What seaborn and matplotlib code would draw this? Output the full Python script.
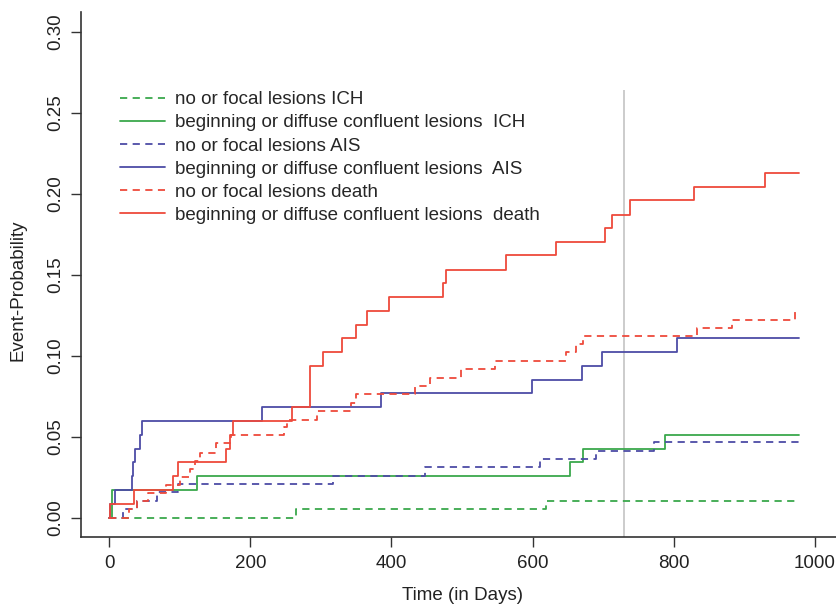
"""Cumulative event probability by lesion group (step curves)"""

import matplotlib
matplotlib.use("Agg")
import matplotlib.pyplot as plt
import pandas as pd
import seaborn as sns

END_DAY = 977
CUTOFF_DAY = 730

# no or focal lesions ICH
ich_focal_t = [0, 264, 619]
ich_focal_p = [0.0, 0.005, 0.0101]
# beginning or diffuse confluent lesions ICH
ich_diff_t = [0, 4, 124, 653, 671, 788]
ich_diff_p = [0.0, 0.017, 0.0255, 0.034, 0.0425, 0.051]
# no or focal lesions AIS
ais_focal_t = [0, 20, 39, 67, 97, 317, 448, 610, 690, 772]
ais_focal_p = [0.0, 0.005, 0.0103, 0.0155, 0.0205, 0.0257, 0.031, 0.036, 0.041, 0.0465]
# beginning or diffuse confluent lesions AIS
ais_diff_t = [0, 1, 8, 32, 34, 37, 43, 46, 217, 385, 599, 670, 699, 805]
ais_diff_p = [0.0, 0.0085, 0.017, 0.0255, 0.034, 0.0425, 0.051, 0.0595, 0.068,
              0.0767, 0.085, 0.0937, 0.1023, 0.1107]
# no or focal lesions death
death_focal_t = [0, 28, 40, 55, 80, 100, 114, 122, 129, 151, 172, 248, 252, 295,
                 342, 350, 433, 455, 498, 547, 648, 662, 671, 833, 882, 972]
death_focal_p = [0.0, 0.005, 0.010, 0.015, 0.020, 0.025, 0.030, 0.035, 0.040, 0.046,
                 0.051, 0.056, 0.0605, 0.066, 0.071, 0.076, 0.081, 0.086, 0.0915,
                 0.0964, 0.102, 0.107, 0.112, 0.117, 0.122, 0.127]
# beginning or diffuse confluent lesions death
death_diff_t = [0, 1, 35, 91, 97, 166, 171, 175, 259, 284, 303, 330, 350, 366, 397,
                473, 478, 563, 633, 702, 713, 738, 829, 929]
death_diff_p = [0.0, 0.0085, 0.017, 0.0255, 0.034, 0.0425, 0.051, 0.0595, 0.068,
                0.0935, 0.102, 0.111, 0.119, 0.1275, 0.136, 0.1445, 0.153, 0.162,
                0.170, 0.1785, 0.187, 0.196, 0.204, 0.213]

labels = [
    "no or focal lesions ICH",
    "beginning or diffuse confluent lesions  ICH",
    "no or focal lesions AIS",
    "beginning or diffuse confluent lesions  AIS",
    "no or focal lesions death",
    "beginning or diffuse confluent lesions  death",
]

GREEN = "#3aa84c"
BLUE = "#4d4ca6"
RED = "#ee4a3c"

series = [
    (ich_focal_t, ich_focal_p, GREEN, "--"),
    (ich_diff_t, ich_diff_p, GREEN, "-"),
    (ais_focal_t, ais_focal_p, BLUE, "--"),
    (ais_diff_t, ais_diff_p, BLUE, "-"),
    (death_focal_t, death_focal_p, RED, "--"),
    (death_diff_t, death_diff_p, RED, "-"),
]

sns.set_style("ticks")
plt.rcParams["font.family"] = ["Liberation Sans", "DejaVu Sans"]
FS = 13.5

fig = plt.figure(figsize=(8.36, 6.04), dpi=100)
ax = fig.add_axes([0.0969, 0.1109, 0.9115, 0.869])

handles = []
for (t, p, col, ls), lab in zip(series, labels):
    df = pd.DataFrame({"day": t + [END_DAY], "prob": p + [p[-1]]})
    sns.lineplot(data=df, x="day", y="prob", ax=ax, color=col,
                 lw=1.3, drawstyle="steps-post", estimator=None, sort=False,
                 legend=False)
    line = ax.lines[-1]
    line.set_linestyle(ls)
    if ls == "--":
        line.set_dashes((4, 3))
    handles.append(line)

# 2-year reference line
ax.vlines(CUTOFF_DAY, -0.012, 0.264, color="#c4c4c4", lw=1.2, zorder=0)

ax.set_xlim(-40, 1040)
ax.set_ylim(-0.012, 0.312)
ax.set_xticks([0, 200, 400, 600, 800, 1000])
ax.set_yticks([0.0, 0.05, 0.10, 0.15, 0.20, 0.25, 0.30])
ax.set_yticklabels(["0.00", "0.05", "0.10", "0.15", "0.20", "0.25", "0.30"],
                   rotation=90, va="center")
ax.tick_params(axis="both", length=7, width=1, color="#333333", labelsize=FS,
               labelcolor="#222222")
ax.tick_params(axis="y", pad=5)
ax.tick_params(axis="x", pad=6)
for side in ["top", "right"]:
    ax.spines[side].set_visible(False)
for side in ["left", "bottom"]:
    ax.spines[side].set_color("#333333")
    ax.spines[side].set_linewidth(1.2)

ax.set_xlabel("Time (in Days)", fontsize=FS, color="#222222")
ax.set_ylabel("Event-Probability", fontsize=FS, color="#222222")
ax.xaxis.set_label_coords(0.5, -0.095)
ax.yaxis.set_label_coords(-0.071, 0.47)

fig.legend(handles, labels, loc="upper left", bbox_to_anchor=(0.1435, 0.849),
           frameon=False, fontsize=FS, handlelength=2.4, handletextpad=0.55,
           labelspacing=0.32, borderpad=0, borderaxespad=0)

fig.savefig("out.png", dpi=100)
